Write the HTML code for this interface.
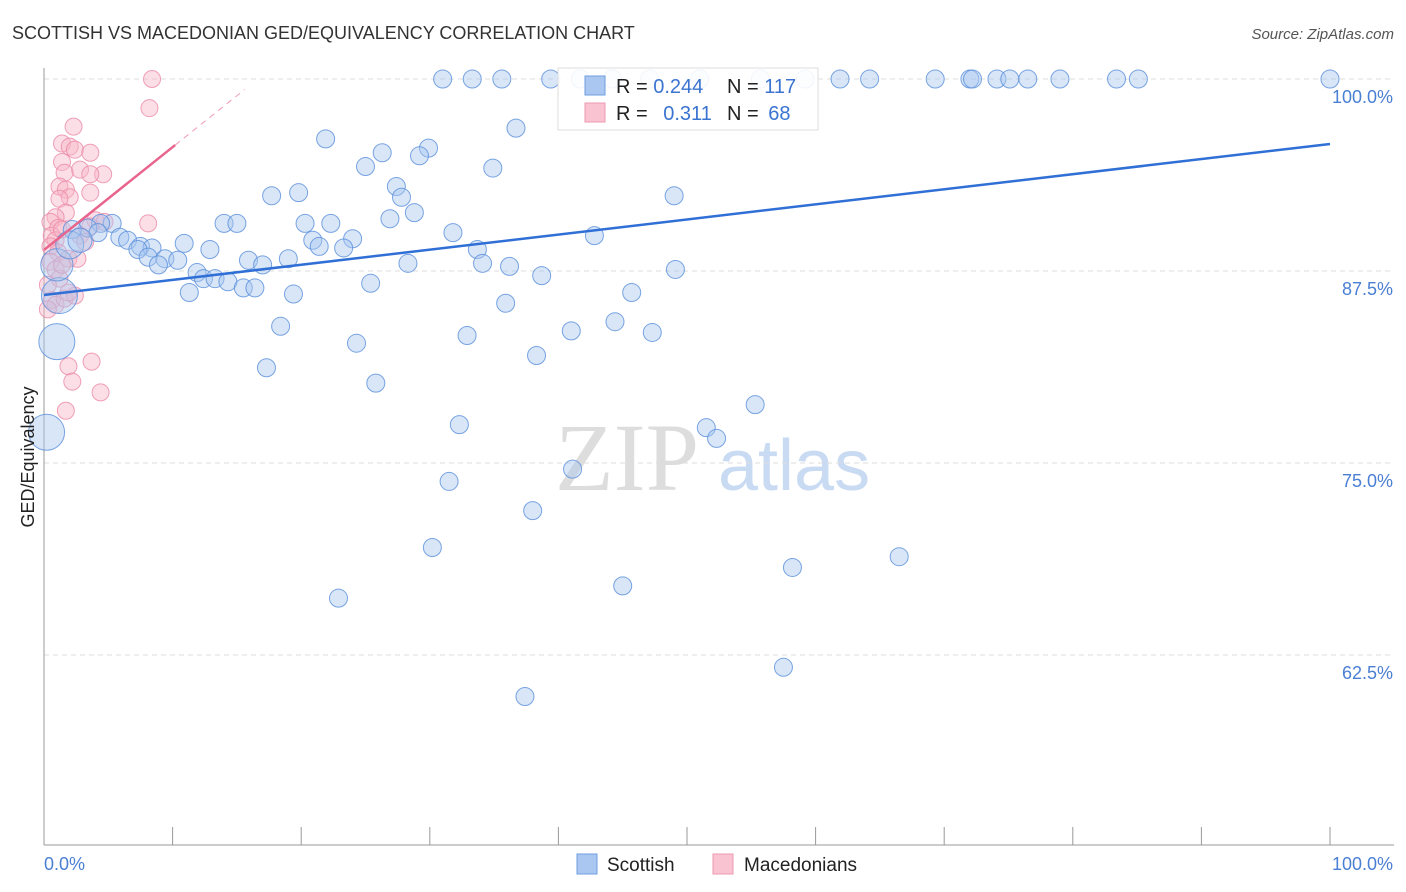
<!DOCTYPE html>
<html><head><meta charset="utf-8">
<style>
body{margin:0;background:#fff;font-family:"Liberation Sans",sans-serif;}
svg{display:block}
</style></head>
<body>
<svg id="chart" width="1406" height="892">
<text x="12" y="39" font-size="18" fill="#333">SCOTTISH VS MACEDONIAN GED/EQUIVALENCY CORRELATION CHART</text>
<text x="1394" y="39" font-size="15" fill="#555" font-style="italic" text-anchor="end">Source: ZipAtlas.com</text>
<text x="555" y="490" font-size="96" fill="#ddd" font-family="Liberation Serif,serif">ZIP</text>
<text x="718" y="490" font-size="72" fill="#c9daf3">atlas</text>
<g id="grid"></g>
<g id="axes"></g>
<g id="pinkPts"></g>
<g id="bluePts"></g>
<g id="lines"></g>
<text transform="translate(34,457) rotate(-90)" font-size="18" fill="#222" text-anchor="middle">GED/Equivalency</text>
<g>
<rect x="558" y="68" width="260" height="62" fill="#fff" fill-opacity="0.9" stroke="#ddd"/>
<rect x="585" y="76" width="20" height="19" fill="#a9c7f0" stroke="#6f9de0"/>
<text x="616" y="93" font-size="20" fill="#222">R = <tspan fill="#3b74d0">0.244</tspan></text>
<text x="727" y="93" font-size="20" fill="#222">N = <tspan fill="#3b74d0">117</tspan></text>
<rect x="585" y="103" width="20" height="19" fill="#f9c3d2" stroke="#ee9ab3"/>
<text x="616" y="120" font-size="20" fill="#222">R = <tspan fill="#3b74d0" dx="10">0.311</tspan></text>
<text x="727" y="120" font-size="20" fill="#222">N = <tspan fill="#3b74d0" dx="4">68</tspan></text>
</g>
<g>
<rect x="577" y="854" width="20" height="20" fill="#a9c7f0" stroke="#6f9de0"/>
<text x="607" y="871" font-size="19" fill="#222">Scottish</text>
<rect x="713" y="854" width="20" height="20" fill="#f9c3d2" stroke="#ee9ab3"/>
<text x="744" y="871" font-size="19" fill="#222">Macedonians</text>
</g>
</svg>
<script>
const yTicks=[100,87.5,75,62.5];
const yTickLabels=["100.0%","87.5%","75.0%","62.5%"];
const xTickLabels=["0.0%","100.0%"];
const blueX=[31.0,33.3,35.6,39.4,41.7,44.2,47.1,51.0,55.7,59.2,61.9,64.2,69.3,72.0,72.2,74.1,75.1,76.5,79.0,83.4,85.1,100,
21.9,36.7,29.9,26.3,29.2,25.0,34.9,27.4,27.8,17.7,19.8,28.8,26.9,49.0,14.0,15.0,20.3,22.3,5.3,4.4,3.4,2.2,4.2,5.9,6.5,7.5,8.4,10.9,12.9,20.9,21.4,24.0,23.3,31.8,42.8,33.7,7.3,8.1,9.4,10.4,8.9,15.9,17.0,19.0,28.3,34.1,36.2,38.7,49.1,11.9,12.4,13.3,14.3,15.5,16.4,11.3,19.4,25.4,45.7,35.9,18.4,44.4,41.0,47.3,32.9,24.3,38.3,17.3,25.8,55.3,32.3,51.5,52.3,41.1,31.5,38.0,30.2,66.5,58.2,45.0,22.9,57.5,37.4,
1.0,0.2,1.2,1.0,2.0,2.8];
const blueY=[100,100,100,100,100,100,100,100,100,100,100,100,100,100,100,100,100,100,100,100,100,100,
96.1,96.8,95.5,95.2,95.0,94.3,94.2,93.0,92.3,92.4,92.6,91.3,90.9,92.4,90.6,90.6,90.6,90.6,90.6,90.6,90.3,90.2,90.0,89.7,89.5,89.1,89.0,89.3,88.9,89.5,89.1,89.6,89.0,90.0,89.8,88.9,88.9,88.4,88.3,88.2,87.9,88.2,87.9,88.3,88.0,88.0,87.8,87.2,87.6,87.4,87.0,87.0,86.8,86.4,86.4,86.1,86.0,86.7,86.1,85.4,83.9,84.2,83.6,83.5,83.3,82.8,82.0,81.2,80.2,78.8,77.5,77.3,76.6,74.6,73.8,71.9,69.5,68.9,68.2,67.0,66.2,61.7,59.8,
82.9,77.0,85.9,87.9,89.2,89.5];
const blueSize=[];for(let i=0;i<blueX.length;i++)blueSize.push(1);
blueSize.splice(blueX.length-6,6,4,4,4,3.2,2.4,1.8);
const pinkX=[8.4,8.2,2.3,1.4,2.0,2.4,3.6,1.4,2.8,1.6,4.6,3.6,1.2,1.7,3.6,2.0,1.2,8.1,4.0,4.7,3.6,1.7,0.9,0.5,1.1,0.6,0.9,0.5,1.1,0.5,0.9,1.2,1.9,2.6,0.6,0.9,0.3,1.6,2.4,3.7,1.9,2.2,4.4,1.7,1.4,2.8,3.2,1.9,0.3,1.4];
const pinkY=[100,98.1,96.9,95.8,95.6,95.4,95.2,94.6,94.1,93.9,93.8,93.8,93.0,92.8,92.6,92.3,92.2,90.6,90.8,90.7,90.4,91.3,91.0,90.7,90.3,89.8,89.5,89.1,88.7,88.1,87.6,87.0,88.3,88.3,85.6,85.3,85.0,85.7,85.9,81.6,81.3,80.3,79.6,78.4,90.2,89.8,89.4,86.1,86.6,87.9];
const blueLine=[85.94,95.77];
const pinkLine=[88.87,95.7];
const pinkSolidEnd=10.2, pinkDashEnd=15.6;

const NS="http://www.w3.org/2000/svg";
const X=v=>44+v*12.86;
const Y=v=>79+(100-v)*15.36;
function mk(tag,attrs,parent){const e=document.createElementNS(NS,tag);for(const k in attrs)e.setAttribute(k,attrs[k]);document.getElementById(parent).appendChild(e);return e;}

yTicks.forEach((t,i)=>{
 const g=mk('line',{x1:44,x2:1394,y1:Y(t),y2:Y(t),stroke:'#ddd','stroke-dasharray':'5,4'},'grid');
 
 
 const l=mk('text',{x:1393,y:Y(t)+24,'font-size':18,fill:'#4a7fd4','text-anchor':'end'},'grid');
 l.textContent=yTickLabels[i];
 
 
});
const ya=mk('line',{x1:44,x2:44,y1:68,y2:845,stroke:'#999'},'axes');


const xa=mk('line',{x1:44,x2:1394,y1:845,y2:845,stroke:'#999'},'axes');


for(let i=1;i<=10;i++){
 const t=mk('line',{x1:X(i*10),x2:X(i*10),y1:827,y2:845,stroke:'#999'},'axes');
 
 
}
const x0=mk('text',{x:44,y:870,'font-size':18,fill:'#4a7fd4'},'axes');x0.textContent=xTickLabels[0];


const x1=mk('text',{x:1393,y:870,'font-size':18,fill:'#4a7fd4','text-anchor':'end'},'axes');x1.textContent=xTickLabels[1];



pinkX.forEach((v,i)=>{
 const c=mk('circle',{cx:X(v),cy:Y(pinkY[i]),r:8.5,fill:'#f7b6c8','fill-opacity':0.45,stroke:'#ec8aa8','stroke-opacity':0.8},'pinkPts');
 
 
});
blueX.forEach((v,i)=>{
 const c=mk('circle',{cx:X(v),cy:Y(blueY[i]),r:9*Math.sqrt(blueSize[i]),fill:'#a9c7f0','fill-opacity':0.45,stroke:'#5a8edb','stroke-opacity':0.8},'bluePts');
 
 
});
const bl=mk('line',{x1:X(0),y1:Y(blueLine[0]),x2:X(100),y2:Y(blueLine[1]),stroke:'#2f6fd6','stroke-width':2.5},'lines');


const slope=(pinkLine[1]-pinkLine[0])/pinkSolidEnd;
const pl=mk('line',{x1:X(0),y1:Y(pinkLine[0]),x2:X(pinkSolidEnd),y2:Y(pinkLine[1]),stroke:'#e8648c','stroke-width':2.5},'lines');


const pd=mk('line',{x1:X(pinkSolidEnd),y1:Y(pinkLine[1]),x2:X(pinkDashEnd),y2:Y(pinkLine[0]+slope*pinkDashEnd),stroke:'#f0a0b8','stroke-width':1,'stroke-dasharray':'6,5'},'lines');


</script>
</body></html>
